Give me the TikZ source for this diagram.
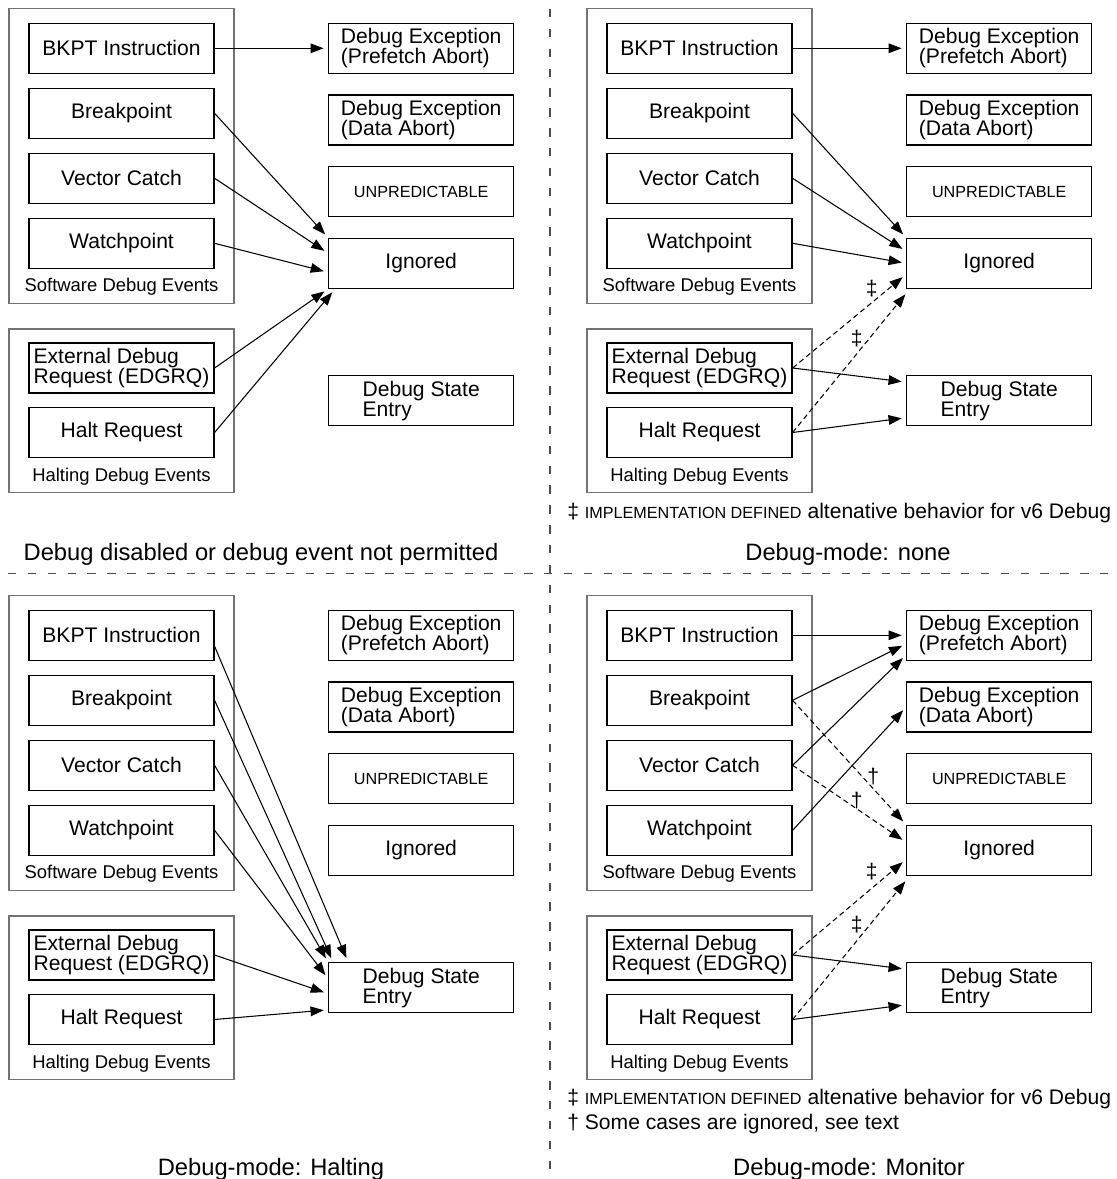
\documentclass[tikz,border=0pt]{standalone}
\usepackage{fontspec}
\setmainfont{Liberation Sans}
\usetikzlibrary{arrows.meta, calc}

\newcommand{\smallcap}[1]{{\fontsize{9.2}{10}\selectfont #1}}

\tikzset{
  evbox/.style={draw, line width=0.7pt, minimum width=3.7cm, minimum height=1cm,
    inner sep=0pt, align=left, font=\fontsize{12}{11.5}\selectfont},
  groupbox/.style={draw=black!55, line width=0.7pt},
  grouplabel/.style={font=\fontsize{10.5}{12}\selectfont},
  flow/.style={-{Triangle[length=7.5pt,width=5.5pt]}, line width=0.6pt, shorten >=2.5pt},
  altflow/.style={flow, dash pattern=on 3pt off 2pt},
  divider/.style={draw=black!70, line width=0.6pt, dash pattern=on 4.8pt off 6.5pt},
  paneltitle/.style={font=\fontsize{13.5}{15}\selectfont, anchor=base},
  notetext/.style={font=\fontsize{12}{14}\selectfont, anchor=west, inner sep=0pt},
  dagmark/.style={font=\fontsize{12}{14}\selectfont, inner sep=0pt}
}

% one panel of event and outcome boxes: prefix, x shift, y shift
\newcommand{\debugpanel}[3]{%
  \begin{scope}[shift={(#2,#3)}]
    % Software debug events
    \draw[groupbox] (9,8.3) rectangle (234,303.3);
    \node[evbox] (#1bkpt)  at (121.5,48.3)  {BKPT Instruction};
    \node[evbox] (#1brk)   at (121.5,113.3) {Breakpoint};
    \node[evbox] (#1vec)   at (121.5,178.3) {Vector Catch};
    \node[evbox] (#1watch) at (121.5,243.3) {Watchpoint};
    \node[grouplabel] (#1swlabel) at (121.5,286.7) {Software Debug Events};
    % Halting debug events
    \draw[groupbox] (9,329) rectangle (234,492.7);
    \node[evbox] (#1edbg) at (121.5,368)   {External Debug\\Request (EDGRQ)};
    \node[evbox] (#1halt) at (121.5,432.5) {Halt Request};
    \node[grouplabel] (#1hlabel) at (121.5,476.7) {Halting Debug Events};
    % Outcomes
    \node[evbox] (#1pf)  at (421.2,48.3)  {Debug Exception\\(Prefetch Abort)};
    \node[evbox] (#1da)  at (421.2,120)   {Debug Exception\\(Data Abort)};
    \node[evbox] (#1unp) at (421.2,191.7) {\smallcap{UNPREDICTABLE}};
    \node[evbox] (#1ign) at (421.2,263.3) {Ignored};
    \node[evbox] (#1ds)  at (421.2,400.7) {Debug State\\Entry};
  \end{scope}}

\begin{document}
\begin{tikzpicture}[x=0.02cm, y=-0.02cm]
    \useasboundingbox (0,0) rectangle (1116,1179);

    % Dividers
    \draw[divider] (550,9) -- (550,1177);
    \draw[divider] (8,573.5) -- (1110,573.5);

    % Panels
    \debugpanel{tl}{0}{0}
    \debugpanel{tr}{578}{0}
    \debugpanel{bl}{0}{587}
    \debugpanel{br}{578}{587}

    % Debug disabled or not permitted
    \draw[flow] (tlbkpt.east) -- (tlpf.west);
    \draw[flow] (tlbrk.east) -- (tlign.north west);
    \draw[flow] (tlvec.east) -- ($(tlign.west)+(0,-10)$);
    \draw[flow] (tlwatch.east) -- ($(tlign.west)+(0,9)$);
    \draw[flow] (tledbg.east) -- (tlign.south west);
    \draw[flow] (tlhalt.east) -- ($(tlign.south west)+(7,0)$);
    \node[paneltitle] (tltitle) at (261,560) {Debug disabled or debug event not permitted};

    % Debug-mode: none
    \draw[flow] (trbkpt.east) -- (trpf.west);
    \draw[flow] (trbrk.east) -- (trign.north west);
    \draw[flow] (trvec.east) -- ($(trign.west)+(0,-12)$);
    \draw[flow] (trwatch.east) -- (trign.west);
    \draw[altflow] (tredbg.east) -- ($(trign.west)+(0,11)$);
    \draw[altflow] (trhalt.east) -- ($(trign.south west)+(2,2)$);
    \draw[flow] (tredbg.east) -- ($(trds.west)+(0,-18.5)$);
    \draw[flow] (trhalt.east) -- ($(trds.west)+(0,17)$);
    \node[dagmark] (trdd1) at (871.7,288.3) {‡};
    \node[dagmark] (trdd2) at (856.7,338.3) {‡};
    \node[notetext] (trnote) at (567,513) {‡ \smallcap{IMPLEMENTATION DEFINED} altenative behavior for v6 Debug};
    \node[paneltitle] (trtitle) at (848,560) {Debug-mode: none};

    % Debug-mode: Halting
    \draw[flow] ($(blbkpt.east)+(0,11)$) -- ($(blds.north west)+(20,0)$);
    \draw[flow] (blbrk.east) -- ($(blds.north west)+(5,0)$);
    \draw[flow] (blvec.east) -- (blds.north west);
    \draw[flow] (blwatch.east) -- ($(blds.west)+(0,-9)$);
    \draw[flow] (bledbg.east) -- ($(blds.west)+(0,6)$);
    \draw[flow] (blhalt.east) -- ($(blds.south west)+(0,-3.5)$);
    \node[paneltitle] (bltitle) at (271,1175) {Debug-mode: Halting};

    % Debug-mode: Monitor
    \draw[flow] (brbkpt.east) -- (brpf.west);
    \draw[flow] (brbrk.east) -- ($(brpf.west)+(0,8.5)$);
    \draw[flow] (brvec.east) -- ($(brpf.south west)+(0,-6)$);
    \draw[flow] (brwatch.east) -- (brda.west);
    \draw[altflow] (brbrk.east) -- (brign.north west);
    \draw[altflow] (brvec.east) -- ($(brign.west)+(0,-8)$);
    \draw[altflow] (bredbg.east) -- ($(brign.west)+(0,9)$);
    \draw[altflow] (brhalt.east) -- ($(brign.south west)+(2,2)$);
    \draw[flow] (bredbg.east) -- ($(brds.west)+(0,-18.5)$);
    \draw[flow] (brhalt.east) -- ($(brds.west)+(0,17)$);
    \node[dagmark] (brd1) at (873.3,776.7) {†};
    \node[dagmark] (brd2) at (856.7,801) {†};
    \node[dagmark] (brdd1) at (871.7,871.7) {‡};
    \node[dagmark] (brdd2) at (856.7,925) {‡};
    \node[notetext] (brnote1) at (567,1099.5) {‡ \smallcap{IMPLEMENTATION DEFINED} altenative behavior for v6 Debug};
    \node[notetext] (brnote2) at (567,1124) {† Some cases are ignored, see text};
    \node[paneltitle] (brtitle) at (849,1175) {Debug-mode: Monitor};
\end{tikzpicture}
\end{document}
